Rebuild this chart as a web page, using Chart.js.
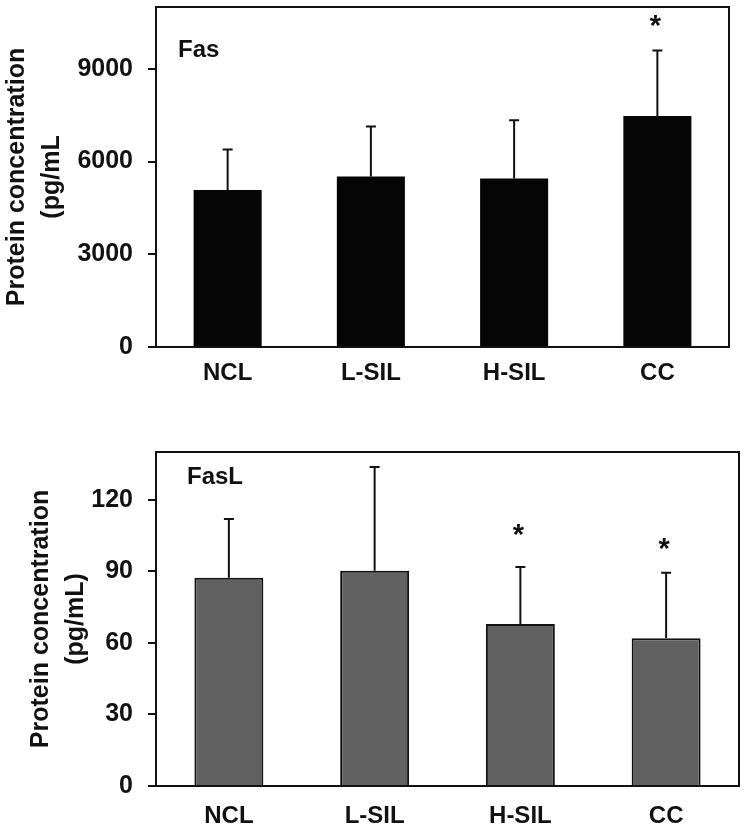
<!DOCTYPE html>
<html>
<head>
<meta charset="utf-8">
<script src="https://cdn.jsdelivr.net/npm/chart.js@4.4.0/dist/chart.umd.min.js"></script>
<style>
  html, body { margin: 0; padding: 0; background: #fff; }
  #wrap { position: relative; width: 744px; height: 827px; }
  .panel { position: absolute; left: 0; width: 744px; }
  #fasBox { top: 0; height: 400px; }
  #faslBox { top: 400px; height: 427px; }
</style>
</head>
<body>
<div id="wrap">
  <div class="panel" id="fasBox"><canvas id="fasChart"></canvas></div>
  <div class="panel" id="faslBox"><canvas id="faslChart"></canvas></div>
</div>
<script>
const groups = ["NCL", "L-SIL", "H-SIL", "CC"];

// Fas (top panel)
const fasMean = [5080, 5520, 5450, 7470];
const fasSD = [1310, 1615, 1890, 2120];
const fasStar = [null, null, null, 10550];
const fasTicks = [0, 3000, 6000, 9000];

// FasL (bottom panel)
const faslMean = [87.3, 90.2, 67.9, 61.9];
const faslSD = [24.6, 43.5, 23.9, 27.5];
const faslStar = [null, null, 107.1, 101.3];
const faslTicks = [0, 30, 60, 90, 120];

const FONT = "'Liberation Sans', Arial, Helvetica, sans-serif";
const INK = "#111";

// frame, error bars, asterisks and panel label
const extras = {
  id: "extras",
  afterDatasetsDraw(chart, args, opts) {
    const ctx = chart.ctx;
    const area = chart.chartArea;
    const y = chart.scales.y;
    const bars = chart.getDatasetMeta(0).data;

    ctx.save();
    ctx.strokeStyle = INK;
    ctx.lineWidth = 2;
    ctx.strokeRect(area.left, area.top, area.right - area.left, area.bottom - area.top);

    bars.forEach((bar, i) => {
      const top = y.getPixelForValue(opts.mean[i] + opts.sd[i]);
      ctx.beginPath();
      ctx.moveTo(bar.x, bar.y);
      ctx.lineTo(bar.x, top);
      ctx.moveTo(bar.x - 5, top);
      ctx.lineTo(bar.x + 5, top);
      ctx.stroke();

      if (opts.star[i] != null) {
        ctx.fillStyle = INK;
        ctx.font = "bold 29px " + FONT;
        ctx.textAlign = "center";
        ctx.textBaseline = "alphabetic";
        ctx.fillText("*", bar.x - 2, y.getPixelForValue(opts.star[i]) + 14);
      }
    });

    ctx.fillStyle = INK;
    ctx.font = "bold 24px " + FONT;
    ctx.textAlign = "left";
    ctx.textBaseline = "middle";
    ctx.fillText(opts.label, area.left + opts.labelDx, area.top + opts.labelDy);
    ctx.restore();
  }
};

function yScale(max, tickList, titleLines, titlePad) {
  return {
    min: 0,
    max: max,
    afterBuildTicks: s => { s.ticks = tickList.map(v => ({ value: v })); },
    afterFit: s => {
      s.width = 156;
      s.paddingTop = 0;
      s.paddingBottom = 0;
    },
    grid: { drawOnChartArea: false, drawTicks: true, tickLength: 8, color: INK, lineWidth: 2 },
    border: { display: true, color: INK, width: 2 },
    ticks: {
      padding: 15,
      color: INK,
      font: { family: FONT, size: 25, weight: "bold" },
      callback: v => String(v)
    },
    title: {
      display: true,
      text: titleLines,
      color: INK,
      font: { family: FONT, size: 25, weight: "bold", lineHeight: 1.4 },
      padding: { top: titlePad, bottom: 0 }
    }
  };
}

function xScale(h, pad) {
  return {
    afterFit: s => { s.height = h; },
    grid: { display: false, drawTicks: false },
    border: { display: true, color: INK, width: 2 },
    ticks: {
      padding: pad,
      color: INK,
      font: { family: FONT, size: 24, weight: "bold" }
    }
  };
}

const fasChart = new Chart("fasChart", {
  type: "bar",
  data: {
    labels: groups,
    datasets: [
      {
        label: "Fas",
        data: fasMean,
        backgroundColor: "#050505",
        borderColor: "#050505",
        borderWidth: 0,
        barPercentage: 1,
        categoryPercentage: 0.475
      }
    ]
  },
  options: {
    responsive: true,
    maintainAspectRatio: false,
    devicePixelRatio: 1,
    animation: false,
    layout: { padding: { top: 7, right: 15, left: 0, bottom: 0 } },
    scales: {
      x: xScale(53, 12),
      y: yScale(11000, fasTicks, ["Protein concentration", "(pg/mL"], 0)
    },
    plugins: {
      legend: { display: false },
      tooltip: { enabled: false },
      extras: { mean: fasMean, sd: fasSD, star: fasStar, label: "Fas", labelDx: 22, labelDy: 43 }
    }
  },
  plugins: [extras]
});

const faslChart = new Chart("faslChart", {
  type: "bar",
  data: {
    labels: groups,
    datasets: [
      {
        label: "FasL",
        data: faslMean,
        backgroundColor: "#616161",
        borderColor: INK,
        borderWidth: 2,
        barPercentage: 1,
        categoryPercentage: 0.473
      }
    ]
  },
  options: {
    responsive: true,
    maintainAspectRatio: false,
    devicePixelRatio: 1,
    animation: false,
    layout: { padding: { top: 52, right: 5, left: 0, bottom: 0 } },
    scales: {
      x: xScale(41, 16),
      y: yScale(140, faslTicks, ["Protein concentration", "(pg/mL)"], 24)
    },
    plugins: {
      legend: { display: false },
      tooltip: { enabled: false },
      extras: { mean: faslMean, sd: faslSD, star: faslStar, label: "FasL", labelDx: 31, labelDy: 25 }
    }
  },
  plugins: [extras]
});
</script>
</body>
</html>
